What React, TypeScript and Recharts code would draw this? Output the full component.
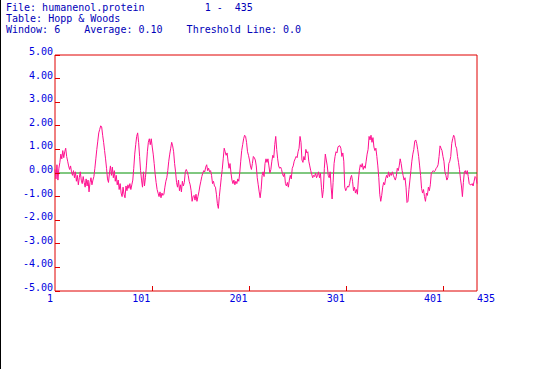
import { LineChart, Line, XAxis, YAxis, ReferenceLine, ReferenceArea } from 'recharts';

// header info
const fileName = 'humanenol.protein';
const rangeText = '1 -  435';
const tableName = 'Hopp & Woods';
const windowSize = 6;
const average = '0.10';
const threshold = 0.0;

// axis ticks
const xTicks = [1, 101, 201, 301, 401, 435];
const yTicks = [-5, -4, -3, -2, -1, 0, 1, 2, 3, 4, 5];

// hydrophilicity values, residue 1..435
const hoppWoods = [
    0.15, -0.25, 0.35, -0.3, 0.2, 0.45, 0.8, 0.6, 0.95, 0.65,
    0.9, 1.05, 0.7, 0.5, 0.3, 0.15, 0.3, 0.05, -0.1, 0.1,
    -0.2, 0.05, -0.35, -0.1, -0.5, -0.2, 0.05, -0.3, -0.45, -0.15,
    -0.4, -0.6, -0.25, -0.55, -0.3, -0.8, -0.4, -0.2, -0.5, -0.3,
    -0.15, 0.2, 0.6, 1.0, 1.35, 1.7, 1.85, 2.0, 1.95, 1.6,
    1.3, 0.95, 0.6, 0.2, -0.25, -0.4, 0.0, 0.3, -0.1, 0.25,
    -0.2, 0.1, -0.35, -0.1, -0.5, -0.3, -0.7, -0.45, -0.85, -1.0,
    -0.6, -0.9, -1.05, -0.55, -0.75, -0.5, -0.65, -0.45, -0.7, -0.5,
    -0.3, 0.2, 0.8, 1.2, 1.55, 1.7, 1.3, 0.7, 0.1, -0.3,
    -0.6, 0.05, -0.55, -0.2, 0.3, 0.9, 1.3, 1.45, 1.2, 1.45,
    1.1, 0.8, 0.4, -0.05, -0.4, -0.7, -0.85, -1.0, -0.8, -1.05,
    -0.85, -0.95, -0.9, -0.6, -0.35, -0.2, 0.1, 0.5, 0.8, 1.05,
    1.3, 1.15, 0.9, 0.4, 0.05, -0.4, -0.6, -0.3, -0.75, -0.5,
    -0.8, -0.35, -0.55, -0.4, 0.05, 0.15, 0.05, -0.1, -0.35, -0.5,
    -0.75, -1.2, -1.0, -0.95, -1.15, -0.9, -1.2, -1.0, -0.8, -0.55,
    -0.35, -0.15, 0.0, 0.1, 0.05, 0.25, 0.35, 0.1, 0.2, 0.05,
    0.1, -0.1, -0.45, -0.35, -0.55, -0.6, -0.9, -1.3, -1.5, -1.0,
    -0.6, -0.2, 0.15, 0.6, 1.05, 0.9, 0.75, 0.85, 0.5, 0.2,
    0.4, 0.0, -0.3, -0.45, -0.3, -0.5, -0.35, -0.45, -0.25, -0.35,
    0.0, 0.5, 0.95, 1.2, 1.45, 1.6, 1.55, 1.3, 0.9, 0.75,
    0.55, 0.3, 0.15, 0.4, 0.7, 0.65, 0.55, 0.3, -0.2, -0.5,
    -0.8, -1.05, -0.7, -0.1, 0.05, -0.15, 0.4, 0.6, 0.45, 0.6,
    0.3, 0.0, 0.15, 0.5, 0.75, 0.65, 1.2, 1.55, 1.0, 0.6,
    0.3, 0.2, 0.25, 0.15, -0.05, -0.15, 0.0, -0.45, -0.55, -0.4,
    -0.6, -0.3, -0.1, -0.25, 0.2, 0.3, 0.5, 0.6, 0.7, 0.65,
    0.9, 1.05, 1.55, 1.3, 0.55, 0.45, 0.7, 0.55, 1.0, 0.85,
    0.9, 0.5, 0.3, 0.1, -0.05, -0.2, -0.1, -0.15, 0.0, -0.2,
    -0.1, 0.05, -0.2, 0.0, -0.6, -1.05, -0.7, 0.2, 0.8, 0.55,
    0.3, -0.1, -0.2, 0.05, -0.6, -1.1, -0.4, 0.4, 0.7, 0.9,
    0.85, 1.1, 1.15, 1.15, 1.05, 0.7, 0.85, 0.5, -0.6, -0.75,
    -0.65, -0.55, -0.6, -0.45, -0.2, -0.1, -0.35, -0.75, -0.6, -0.85,
    -0.7, -0.9, -0.3, 0.1, 0.35, 0.25, 0.4, 0.15, 0.3, 0.2,
    0.5, 0.8, 1.0, 1.55, 1.4, 1.6, 1.3, 1.5, 1.1, 0.95,
    1.05, 0.7, 0.3, -0.2, -0.9, -1.2, -0.95, -0.6, -0.4, -0.5,
    -0.25, -0.1, -0.2, 0.05, -0.15, 0.0, -0.1, 0.05, -0.1, -0.2,
    -0.3, -0.15, 0.2, 0.1, 0.3, 0.6, 0.4, 0.1, -0.1, -0.3,
    -0.2, -0.6, -1.25, -1.2, -0.7, -0.3, 0.1, 0.5, 0.8, 1.0,
    1.35, 1.4, 1.25, 1.0, 0.7, 0.3, -0.1, -0.65, -0.85, -0.7,
    -1.0, -1.2, -0.85, -0.95, -0.6, -0.75, -0.5, 0.0, 0.05, 0.1,
    0.05, 0.1, 0.2, 0.25, 0.35, 0.7, 1.15, 1.05, 0.95, 0.7,
    0.5, 0.05, -0.1, -0.3, -0.2, 0.4, 0.5, 0.7, 1.25, 1.45,
    1.6, 1.5, 1.15, 1.05, 0.7, 0.45, 0.15, -0.25, -0.55, -1.0,
    -0.4, 0.05, 0.1, -0.05, 0.1, -0.15, -0.45, -0.5, -0.5, -0.45,
    -0.55, -0.35, -0.15, -0.2, -0.45,
];

const FONT = '"DejaVu Sans Mono", monospace';
const FRAME = '#e00000';
const LABEL = '#0000e0';
const PLOT_LEFT = 55;
const PLOT_BOTTOM = 291;

const chartData = hoppWoods.map((v, i) => ({ pos: i + 1, value: v }));

const XTick = ({ x, payload }: any) => {
    const v = payload.value;
    const last = v === 435;
    return (
        <g>
            {v !== 1 && !last && (
                <line x1={x} x2={x} y1={PLOT_BOTTOM} y2={PLOT_BOTTOM - 5} stroke={FRAME} shapeRendering="crispEdges" />
            )}
            <text
                x={last ? x : x - 2}
                y={PLOT_BOTTOM + 11}
                textAnchor={last ? 'start' : 'end'}
                fill={LABEL}
                fontFamily={FONT}
                fontSize={10}
            >
                {v}
            </text>
        </g>
    );
};

const YTick = ({ y, payload }: any) => (
    <g>
        <line x1={PLOT_LEFT} x2={PLOT_LEFT + 5} y1={y} y2={y} stroke={FRAME} shapeRendering="crispEdges" />
        <text x={PLOT_LEFT - 2} y={y} textAnchor="end" fill={LABEL} fontFamily={FONT} fontSize={10}>
            {payload.value.toFixed(2)}
        </text>
    </g>
);

export default function App() {
    const headerStyle: React.CSSProperties = {
        position: 'absolute',
        left: 6,
        top: 2,
        fontFamily: FONT,
        fontSize: 10,
        lineHeight: '11px',
        color: '#0000b8',
        whiteSpace: 'pre',
    };
    return (
        <div style={{ position: 'absolute', left: 0, top: 0, width: 539, height: 369, background: '#fff', overflow: 'hidden' }}>
            <div style={{ position: 'absolute', left: 0, top: 0, width: 1, height: 369, background: '#000' }} />
            <div style={headerStyle}>
                {`File: ${fileName}          ${rangeText}\nTable: ${tableName}\nWindow: ${windowSize}    Average: ${average}    Threshold Line: ${threshold.toFixed(1)}`}
            </div>
            <div style={{ position: 'absolute', left: 0, top: 0 }}>
                <LineChart width={539} height={369} data={chartData} margin={{ top: 55, right: 62, bottom: 0, left: 0 }}>
                    <XAxis
                        type="number"
                        dataKey="pos"
                        domain={[1, 435]}
                        ticks={xTicks}
                        interval={0}
                        height={78}
                        axisLine={false}
                        tickLine={false}
                        tick={<XTick />}
                    />
                    <YAxis
                        type="number"
                        domain={[-5, 5]}
                        ticks={yTicks}
                        interval={0}
                        width={55}
                        axisLine={false}
                        tickLine={false}
                        tick={<YTick />}
                    />
                    <ReferenceLine y={threshold} stroke="#009000" strokeWidth={1} />
                    <Line
                        type="linear"
                        dataKey="value"
                        stroke="#ff1090"
                        strokeWidth={1}
                        dot={false}
                        isAnimationActive={false}
                    />
                    <ReferenceArea
                        x1={1}
                        x2={435}
                        y1={-5}
                        y2={5}
                        fill="none"
                        fillOpacity={0}
                        stroke={FRAME}
                        strokeOpacity={1}
                        strokeWidth={1}
                    />
                </LineChart>
            </div>
        </div>
    );
}
